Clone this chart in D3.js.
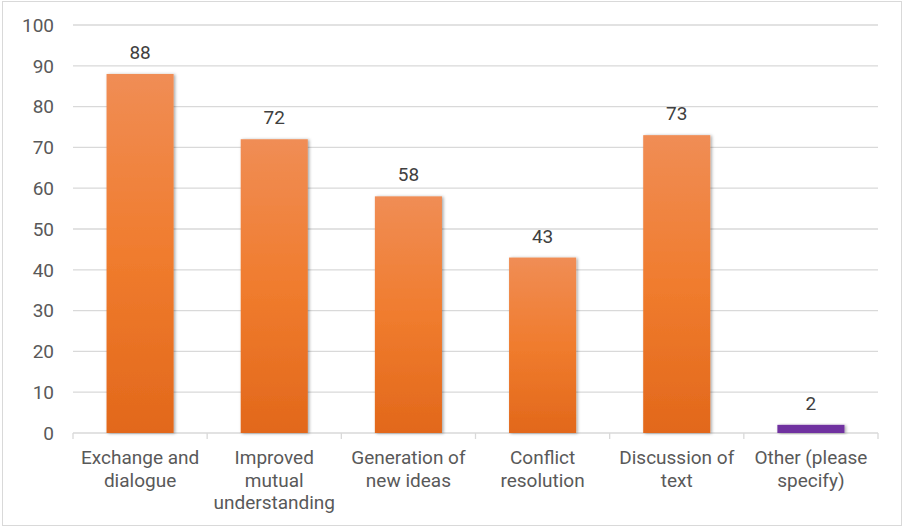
<!DOCTYPE html>
<html>
<head>
<meta charset="utf-8">
<script src="https://cdn.jsdelivr.net/npm/d3@7"></script>
<style>
  body { margin: 0; background: #fff; }
  svg text { font-family: Roboto, "Noto Sans", sans-serif; fill: #595959; }
</style>
</head>
<body>
<div id="chart"></div>
<script>
"use strict";

// data
const categories = [
  "Exchange and dialogue",
  "Improved mutual understanding",
  "Generation of new ideas",
  "Conflict resolution",
  "Discussion of text",
  "Other (please specify)"
];
const categoryLines = [
  ["Exchange and", "dialogue"],
  ["Improved", "mutual", "understanding"],
  ["Generation of", "new ideas"],
  ["Conflict", "resolution"],
  ["Discussion of", "text"],
  ["Other (please", "specify)"]
];
const values = [88, 72, 58, 43, 73, 2];
const yTicks = [0, 10, 20, 30, 40, 50, 60, 70, 80, 90, 100];

const width = 904, height = 527;
const margin = {top: 25, right: 26, bottom: 94, left: 73};

const svg = d3.select("#chart").append("svg")
    .attr("width", width)
    .attr("height", height);

// outer frame
svg.append("rect")
    .attr("x", 2.5).attr("y", 1.5)
    .attr("width", width - 5).attr("height", height - 3)
    .attr("fill", "#fff")
    .attr("stroke", "#d9d9d9");

const defs = svg.append("defs");
const grad = defs.append("linearGradient")
    .attr("id", "orangeGrad")
    .attr("x1", 0).attr("y1", 0).attr("x2", 0).attr("y2", 1);
grad.append("stop").attr("offset", "0%").attr("stop-color", "#f08d55");
grad.append("stop").attr("offset", "50%").attr("stop-color", "#f07c2e");
grad.append("stop").attr("offset", "100%").attr("stop-color", "#e2681b");

const shadow = defs.append("filter").attr("id", "shadow")
    .attr("x", "-20%").attr("y", "-20%").attr("width", "140%").attr("height", "140%");
shadow.append("feDropShadow")
    .attr("dx", 1.5).attr("dy", 0.5).attr("stdDeviation", 1.6)
    .attr("flood-color", "#000").attr("flood-opacity", 0.35);

const x = d3.scaleBand()
    .domain(categories)
    .range([margin.left, width - margin.right])
    .paddingInner(0.5)
    .paddingOuter(0.25);

const y = d3.scaleLinear()
    .domain([0, 100])
    .range([height - margin.bottom, margin.top]);

// gridlines
svg.append("g")
  .selectAll("line")
  .data(yTicks.filter(d => d > 0))
  .enter().append("line")
    .attr("x1", margin.left).attr("x2", width - margin.right)
    .attr("y1", d => y(d)).attr("y2", d => y(d))
    .attr("stroke", "#d9d9d9")
    .attr("stroke-width", 1.3);

// y axis labels
svg.append("g")
  .selectAll("text")
  .data(yTicks)
  .enter().append("text")
    .attr("x", 54)
    .attr("y", d => y(d))
    .attr("dy", "0.36em")
    .attr("text-anchor", "end")
    .style("font-size", "19px")
    .text(d => d);

// x axis line and ticks
const xAxis = svg.append("g")
    .attr("transform", `translate(0,${y(0)})`);
xAxis.append("line")
    .attr("x1", margin.left).attr("x2", width - margin.right)
    .attr("stroke", "#d9d9d9").attr("stroke-width", 1.3);
const bounds = d3.range(categories.length + 1).map(i => margin.left + i * x.step() * (x.range()[1] - x.range()[0]) / (x.step() * categories.length));
xAxis.selectAll(".tick")
  .data(bounds)
  .enter().append("line")
    .attr("x1", d => d).attr("x2", d => d)
    .attr("y1", 0).attr("y2", 6)
    .attr("stroke", "#d9d9d9").attr("stroke-width", 1.3);

// bars
svg.append("g")
  .selectAll("rect")
  .data(values)
  .enter().append("rect")
    .attr("x", (d, i) => x(categories[i]))
    .attr("y", d => y(d))
    .attr("width", x.bandwidth())
    .attr("height", d => y(0) - y(d))
    .attr("fill", (d, i) => i === 5 ? "#7030a0" : "url(#orangeGrad)")
    .attr("filter", "url(#shadow)");

// value labels
svg.append("g")
  .selectAll("text")
  .data(values)
  .enter().append("text")
    .attr("x", (d, i) => x(categories[i]) + x.bandwidth() / 2)
    .attr("y", d => y(d) - 15)
    .attr("text-anchor", "middle")
    .style("font-size", "19px")
    .style("fill", "#404040")
    .text(d => d);

// category labels
const catG = svg.append("g")
  .selectAll("text")
  .data(categoryLines)
  .enter().append("text")
    .attr("x", (d, i) => x(categories[i]) + x.bandwidth() / 2)
    .attr("y", y(0) + 31)
    .attr("text-anchor", "middle")
    .style("font-size", "19px");
catG.selectAll("tspan")
  .data(d => d)
  .enter().append("tspan")
    .attr("x", function() { return d3.select(this.parentNode).attr("x"); })
    .attr("dy", (d, i) => i === 0 ? 0 : 22.5)
    .text(d => d);
</script>
</body>
</html>
